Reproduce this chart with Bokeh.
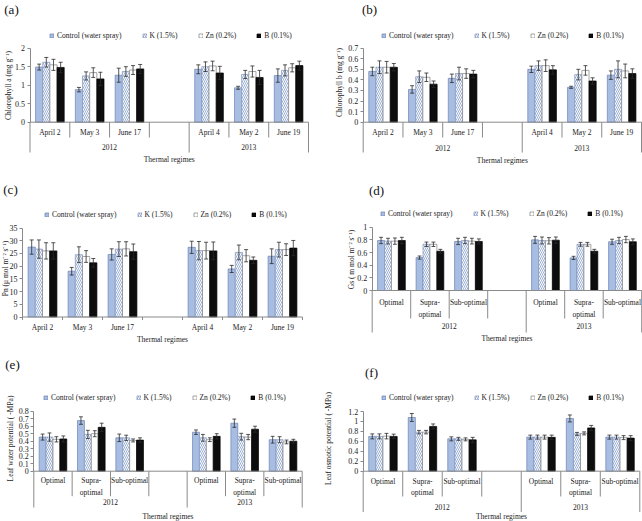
import math
from bokeh.plotting import figure
from bokeh.models import (ColumnDataSource, Range1d, FixedTicker,
                          NumeralTickFormatter, Legend, LegendItem)
from bokeh.transform import dodge
from bokeh.layouts import column, row
from bokeh.embed import file_html
from bokeh.resources import INLINE
from bokeh.core.properties import value

# ---------------- categories / labels ----------------
years = ["2012", "2013"]
dates_2012 = ["April 2", "May 3", "June 17"]
dates_2013 = ["April 4", "May 2", "June 19"]
regimes = ["Optimal", "Supra-\noptimal", "Sub-optimal"]
treatments = ["Control (water spray)", "K (1.5%)", "Zn (0.2%)", "B (0.1%)"]
x_title = "Thermal regimes"

# ---------------- (a) Chlorophyll a ----------------
a_control = [1.49, 0.88, 1.27, 1.43, 0.93, 1.26]
a_k = [1.62, 1.25, 1.37, 1.50, 1.29, 1.40]
a_zn = [1.55, 1.34, 1.41, 1.52, 1.37, 1.47]
a_b = [1.48, 1.17, 1.44, 1.33, 1.21, 1.53]
a_control_err = [0.08, 0.06, 0.19, 0.12, 0.04, 0.18]
a_k_err = [0.13, 0.11, 0.13, 0.13, 0.11, 0.15]
a_zn_err = [0.15, 0.13, 0.12, 0.13, 0.15, 0.11]
a_b_err = [0.14, 0.18, 0.12, 0.18, 0.19, 0.12]
a_ticks = [0, 0.5, 1, 1.5, 2]

# ---------------- (b) Chlorophyll b ----------------
b_control = [0.48, 0.31, 0.415, 0.50, 0.33, 0.445]
b_k = [0.52, 0.43, 0.46, 0.535, 0.45, 0.50]
b_zn = [0.52, 0.425, 0.46, 0.535, 0.49, 0.485]
b_b = [0.52, 0.36, 0.455, 0.495, 0.39, 0.46]
b_control_err = [0.04, 0.035, 0.04, 0.03, 0.01, 0.04]
b_k_err = [0.06, 0.055, 0.06, 0.045, 0.05, 0.08]
b_zn_err = [0.055, 0.04, 0.045, 0.055, 0.045, 0.065]
b_b_err = [0.035, 0.03, 0.035, 0.04, 0.03, 0.045]
b_ticks = [0, 0.1, 0.2, 0.3, 0.4, 0.5, 0.6, 0.7]

# ---------------- (c) Pn ----------------
c_control = [27.5, 18.0, 24.6, 27.4, 18.9, 23.9]
c_k = [26.7, 24.5, 26.7, 26.1, 25.4, 26.5]
c_zn = [26.0, 23.8, 26.8, 26.1, 24.1, 26.5]
c_b = [26.0, 21.3, 25.7, 26.0, 22.3, 27.1]
c_control_err = [2.8, 1.5, 2.2, 2.4, 1.4, 2.9]
c_k_err = [3.6, 3.1, 2.9, 3.6, 2.9, 2.9]
c_zn_err = [3.2, 2.3, 2.8, 3.3, 2.4, 2.3]
c_b_err = [3.2, 1.7, 3.0, 3.5, 1.3, 3.0]
c_ticks = [0, 5, 10, 15, 20, 25, 30, 35]

# ---------------- (d) Gs ----------------
d_control = [0.79, 0.52, 0.775, 0.80, 0.515, 0.77]
d_k = [0.78, 0.73, 0.79, 0.79, 0.73, 0.79]
d_zn = [0.78, 0.73, 0.78, 0.785, 0.73, 0.805]
d_b = [0.79, 0.62, 0.775, 0.795, 0.62, 0.77]
d_control_err = [0.05, 0.025, 0.05, 0.055, 0.025, 0.04]
d_k_err = [0.045, 0.035, 0.05, 0.055, 0.03, 0.05]
d_zn_err = [0.05, 0.035, 0.045, 0.05, 0.03, 0.05]
d_b_err = [0.05, 0.03, 0.04, 0.05, 0.03, 0.045]
d_ticks = [0, 0.2, 0.4, 0.6, 0.8, 1]

# ---------------- (e) Leaf water potential ----------------
e_control = [0.455, 0.675, 0.445, 0.52, 0.64, 0.42]
e_k = [0.455, 0.49, 0.445, 0.445, 0.46, 0.42]
e_zn = [0.425, 0.50, 0.41, 0.42, 0.455, 0.39]
e_b = [0.43, 0.585, 0.415, 0.465, 0.56, 0.40]
e_control_err = [0.04, 0.05, 0.05, 0.03, 0.055, 0.045]
e_k_err = [0.055, 0.055, 0.035, 0.045, 0.045, 0.04]
e_zn_err = [0.035, 0.04, 0.02, 0.025, 0.035, 0.025]
e_b_err = [0.04, 0.055, 0.03, 0.035, 0.04, 0.025]
e_ticks = [0, 0.1, 0.2, 0.3, 0.4, 0.5, 0.6, 0.7, 0.8]

# ---------------- (f) Leaf osmotic potential ----------------
f_control = [0.70, 1.08, 0.65, 0.685, 1.06, 0.685]
f_k = [0.70, 0.785, 0.65, 0.685, 0.75, 0.685]
f_zn = [0.705, 0.785, 0.64, 0.685, 0.76, 0.675]
f_b = [0.70, 0.90, 0.63, 0.68, 0.87, 0.665]
f_control_err = [0.05, 0.08, 0.04, 0.04, 0.07, 0.04]
f_k_err = [0.05, 0.035, 0.03, 0.04, 0.03, 0.04]
f_zn_err = [0.055, 0.035, 0.03, 0.04, 0.03, 0.04]
f_b_err = [0.045, 0.05, 0.05, 0.045, 0.05, 0.05]
f_ticks = [0, 0.2, 0.4, 0.6, 0.8, 1, 1.2]

# ---------------- styles ----------------
FONT = "Liberation Serif"
W = 321
AX = "#8a8a8a"
TXT = "#1a1a1a"
STYLES = [
    dict(fill_color="#a8bde2", line_color="#6a82b4"),
    dict(fill_color="white", line_color="#8394b8", hatch_pattern="\\",
         hatch_color="#8fa6d3", hatch_scale=4, hatch_weight=0.9),
    dict(fill_color="white", line_color="#7f7f7f"),
    dict(fill_color="#0d0d0d", line_color="#000000"),
]
BW = 0.18
CAP = 0.1


def panel(tag, ytitle, subs12, subs13, series, errors, ticks, lay, H):
    ymax = ticks[-1]
    n12 = len(subs12) + 1          # 2012 block has an empty trailing slot
    n = n12 + len(subs13)
    slots = list(range(len(subs12))) + [n12 + j for j in range(len(subs13))]
    centers = [i + 0.5 for i in slots]
    labels = list(subs12) + list(subs13)

    slot = (lay["right"] - lay["left"]) / n

    def sx(px):  # panel pixel -> category coordinate
        return (px - lay["left"]) / slot

    s = (lay["y0"] - lay["ytop"]) / ymax
    p = figure(width=W, height=H,
               x_range=Range1d(sx(0), sx(W)),
               y_range=Range1d(-(H - lay["y0"]) / s, lay["y0"] / s),
               x_axis_location=None, y_axis_location="left",
               toolbar_location=None, output_backend="svg", title=None,
               min_border_left=0, min_border_right=0,
               min_border_top=0, min_border_bottom=0,
               outline_line_color=None,
               background_fill_color="white", border_fill_color="white")
    p.extra_y_ranges = {"px": Range1d(H, 0)}
    p.grid.visible = False

    ax = p.yaxis[0]
    ax.fixed_location = 0
    ax.ticker = FixedTicker(ticks=ticks)
    ax.bounds = (0, ymax)
    ax.formatter = NumeralTickFormatter(format="0.[0]")
    ax.axis_line_color = AX
    ax.major_tick_line_color = AX
    ax.major_tick_out = 3
    ax.major_tick_in = 0
    ax.minor_tick_line_color = None
    ax.major_label_text_font = FONT
    ax.major_label_text_font_size = "8px"
    ax.major_label_text_color = "#222222"
    ax.major_label_standoff = 2

    data = {"x": centers}
    for i, (v, e) in enumerate(zip(series, errors)):
        data[f"v{i}"] = v
        data[f"lo{i}"] = [a - b for a, b in zip(v, e)]
        data[f"hi{i}"] = [a + b for a, b in zip(v, e)]
    src = ColumnDataSource(data)

    rends = []
    for i in range(4):
        off = (i - 1.5) * BW
        r = p.vbar(x=dodge("x", off), top=f"v{i}", bottom=0,
                   width=BW, source=src, line_width=0.7, **STYLES[i])
        rends.append(r)
    for i in range(4):
        off = (i - 1.5) * BW
        ekw = dict(source=src, line_color="#2b2b2b", line_width=0.8)
        p.segment(x0=dodge("x", off), x1=dodge("x", off),
                  y0=f"lo{i}", y1=f"hi{i}", **ekw)
        for end in ("lo", "hi"):
            p.segment(x0=dodge("x", off - CAP / 2), x1=dodge("x", off + CAP / 2),
                      y0=f"{end}{i}", y1=f"{end}{i}", **ekw)

    # category axis line
    p.segment(x0=[0], x1=[n], y0=[lay["y0"]], y1=[lay["y0"]],
              y_range_name="px", line_color=AX, line_width=1)

    tkw = dict(y_range_name="px", text_font=value(FONT), text_font_size="7.5px",
               text_align="center", text_color=TXT)
    p.text(x=centers, y=[lay["sub_y"] - 3.8] * len(centers), text=labels,
           text_baseline="top", text_line_height=1.3, **tkw)

    if lay["hier"]:
        bounds_long = [0, n12, n]
        xs = list(range(n + 1))
        y1s = [lay["year_bot"] if b in bounds_long else lay["sub_bot"] for b in xs]
        p.segment(x0=xs, x1=xs, y0=[lay["y0"]] * len(xs), y1=y1s,
                  y_range_name="px", line_color=AX, line_width=1)
        p.text(x=[n12 / 2, n12 + (n - n12) / 2], y=[lay["year_y"]] * 2, text=years,
               text_baseline="middle", **tkw)
    else:
        xs = list(range(n + 1))
        p.segment(x0=xs, x1=xs, y0=[lay["y0"]] * len(xs),
                  y1=[lay["y0"] + 3] * len(xs),
                  y_range_name="px", line_color=AX, line_width=1)

    p.text(x=[n / 2], y=[lay["thermal_y"]], text=[x_title],
           text_baseline="middle", **tkw)

    # panel tag and y-axis title
    p.text(x=[sx(lay["tag"][0])], y=[lay["tag"][1]], text=[tag],
           y_range_name="px", text_font=value(FONT), text_font_size="13px",
           text_align="center", text_baseline="middle", text_color="#111111")
    p.text(x=[sx(lay["ytx"])], y=[lay["yty"]], text=[ytitle], angle=math.pi / 2,
           y_range_name="px", text_font=value(FONT), text_font_size="7.5px",
           text_align="center", text_baseline="middle", text_color=TXT)

    leg_h = 9
    legend = Legend(items=[LegendItem(label=t, renderers=[r])
                           for t, r in zip(treatments, rends)],
                    location=(lay["leg"][0], H - lay["leg"][1] - leg_h / 2),
                    orientation="horizontal", spacing=20, padding=0, margin=0,
                    glyph_width=5, glyph_height=5, label_standoff=3,
                    label_width=0, label_height=6,
                    label_text_font=FONT, label_text_font_size="7.5px",
                    label_text_color=TXT,
                    background_fill_alpha=0, border_line_color=None)
    p.add_layout(legend)
    return p


lay_a = dict(left=29.5, right=308, y0=121.7, ytop=47.7, ytx=8, yty=85, tag=(11, 9),
             leg=(49, 35), sub_y=131.7, sub_bot=137, year_y=146.7, year_bot=152,
             thermal_y=159.3, hier=True)
lay_b = dict(left=41.7, right=320, y0=121.7, ytop=47.7, ytx=18, yty=82, tag=(48, 8.5),
             leg=(60, 35), sub_y=131, sub_bot=137, year_y=147, year_bot=152,
             thermal_y=160, hier=True)
lay_c = dict(left=22, right=302, y0=141.5, ytop=52.5, ytx=5, yty=93, tag=(10, 14),
             leg=(44, 39), sub_y=151, thermal_y=164, hier=False)
lay_d = dict(left=50.7, right=320.2, y0=115, ytop=51.7, ytx=30, yty=84, tag=(55, 15),
             leg=(59, 38.7), sub_y=126.7, sub_bot=143, year_y=150.7, year_bot=157,
             thermal_y=163.3, hier=True)
lay_e = dict(left=33.3, right=301.7, y0=120.7, ytop=60.7, ytx=10, yty=88, tag=(12, 14),
             leg=(43, 47.3), sub_y=129.5, sub_bot=145.7, year_y=151.7, year_bot=157,
             thermal_y=165.5, hier=True)
lay_f = dict(left=41.7, right=318.3, y0=120.7, ytop=61, ytx=7, yty=88, tag=(50, 22),
             leg=(60, 47.3), sub_y=130, sub_bot=146, year_y=156.7, year_bot=161.5,
             thermal_y=166, hier=True)

pa = panel("(a)", "Chlorophyll a (mg g\u207b\u00b9)", dates_2012, dates_2013,
           [a_control, a_k, a_zn, a_b], [a_control_err, a_k_err, a_zn_err, a_b_err],
           a_ticks, lay_a, 175)
pb = panel("(b)", "Chlorophyll b (mg g\u207b\u00b9)", dates_2012, dates_2013,
           [b_control, b_k, b_zn, b_b], [b_control_err, b_k_err, b_zn_err, b_b_err],
           b_ticks, lay_b, 175)
pc = panel("(c)", "Pn (\u03bc mol m\u207b\u00b2 s\u207b\u00b9)", dates_2012, dates_2013,
           [c_control, c_k, c_zn, c_b], [c_control_err, c_k_err, c_zn_err, c_b_err],
           c_ticks, lay_c, 175)
pd_ = panel("(d)", "Gs ( m mol m\u207b\u00b2 s\u207b\u00b9)", regimes, regimes,
            [d_control, d_k, d_zn, d_b], [d_control_err, d_k_err, d_zn_err, d_b_err],
            d_ticks, lay_d, 175)
pe = panel("(e)", "Leaf water potential ( -MPa)", regimes, regimes,
           [e_control, e_k, e_zn, e_b], [e_control_err, e_k_err, e_zn_err, e_b_err],
           e_ticks, lay_e, 171)
pf = panel("(f)", "Leaf osmotic potential ( -MPa)", regimes, regimes,
           [f_control, f_k, f_zn, f_b], [f_control_err, f_k_err, f_zn_err, f_b_err],
           f_ticks, lay_f, 171)

layout = column(row(pa, pb), row(pc, pd_), row(pe, pf))
open("out.html", "w").write(file_html(layout, INLINE))
